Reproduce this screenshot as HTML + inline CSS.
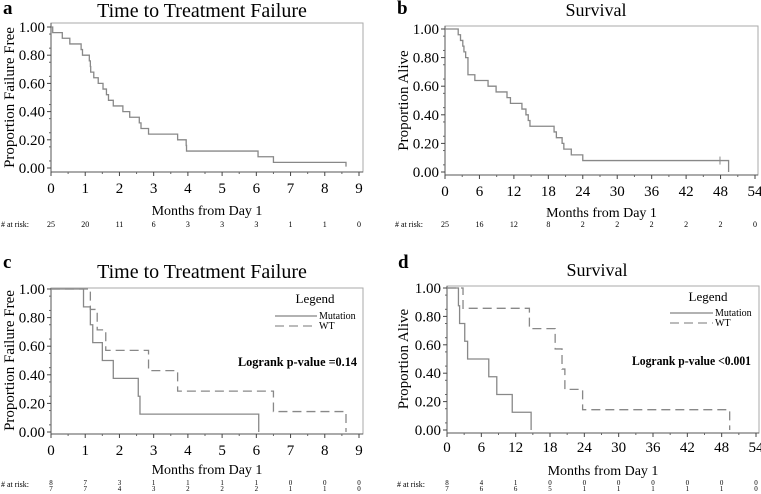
<!DOCTYPE html>
<html><head><meta charset="utf-8"><style>
body{margin:0;background:#fff;width:761px;height:494px;overflow:hidden}
svg{display:block;font-family:"Liberation Serif",serif}
</style></head><body>
<svg id="fig" width="761" height="494" viewBox="0 0 761 494" xmlns="http://www.w3.org/2000/svg"></svg>
<script>
// Panel a: time to treatment failure (all)
const aTimes=[0.05,0.33,0.55,0.88,0.92,1.12,1.15,1.16,1.25,1.38,1.52,1.62,1.68,1.82,2.1,2.3,2.58,2.63,2.85,3.7,3.95,3.96,6.05,6.5,8.62];
const aSurv=[0.96,0.92,0.88,0.84,0.80,0.76,0.72,0.68,0.64,0.60,0.56,0.52,0.48,0.44,0.40,0.36,0.32,0.28,0.24,0.20,0.16,0.12,0.08,0.04,0.01];
const aRisk=["25","20","11","6","3","3","3","1","1","0"];
const aTicks=[0,1,2,3,4,5,6,7,8,9];
// Panel b: survival (all)
const bTimes=[2.3,2.7,3.1,3.3,3.6,4.0,5.2,7.5,8.9,10.8,11.4,13.4,14.1,14.5,14.8,19.0,19.4,20.4,20.7,22.0,24.0,49.4];
const bSurv=[0.96,0.92,0.88,0.84,0.80,0.68,0.64,0.60,0.56,0.52,0.48,0.44,0.40,0.36,0.32,0.28,0.24,0.20,0.16,0.12,0.08,0.0];
const bCensor=[47.9];
const bRisk=["25","16","12","8","2","2","2","2","2","0"];
const bTicks=[0,6,12,18,24,30,36,42,48,54];
// Panel c: TTF by group
const cMutTimes=[0.95,1.15,1.22,1.5,1.82,2.55,2.6,6.07];
const cMutSurv=[0.875,0.75,0.625,0.5,0.375,0.25,0.125,0];
const cWtTimes=[1.15,1.35,1.6,2.85,3.7,6.5,8.62];
const cWtSurv=[0.857,0.714,0.571,0.429,0.286,0.143,0];
const cRiskMut=["8","7","3","1","1","1","1","0","0","0"];
const cRiskWt=["7","7","4","3","2","2","2","1","1","0"];
// Panel d: survival by group
const dMutTimes=[2.0,2.2,3.1,3.6,7.3,8.7,11.4,14.7];
const dMutSurv=[0.875,0.75,0.625,0.5,0.375,0.25,0.125,0];
const dWtTimes=[2.8,14.4,18.9,20.1,20.6,23.7,49.4];
const dWtSurv=[0.857,0.714,0.571,0.429,0.286,0.143,0];
const dRiskMut=["8","4","1","0","0","0","0","0","0","0"];
const dRiskWt=["7","6","6","5","1","1","1","1","1","0"];
const yTicks=[0,0.2,0.4,0.6,0.8,1.0];

const svg=document.getElementById('fig');
const NS='http://www.w3.org/2000/svg';
function el(tag,attrs,parent,text){const e=document.createElementNS(NS,tag);for(const k in attrs)e.setAttribute(k,attrs[k]);if(text!==undefined)e.textContent=text;(parent||svg).appendChild(e);return e;}

function panel(cfg){
  const g=el('g',{});
  
  
  const xs=v=>cfg.x0+(v-cfg.tmin)/(cfg.tmax-cfg.tmin)*(cfg.x1-cfg.x0);
  const ys=v=>cfg.y0+(1-v)*(cfg.y1-cfg.y0);
  let t=el('text',{x:cfg.lx,y:cfg.ly,'font-size':19,'font-weight':'bold'},g,cfg.letter);
  
  t=el('text',{x:cfg.tx,y:cfg.ty,'font-size':cfg.tfs,'text-anchor':'middle'},g,cfg.title);
  
  const f=el('rect',{x:cfg.x0,y:cfg.fTop,width:cfg.fRight-cfg.x0,height:cfg.fBot-cfg.fTop,fill:'none',stroke:'#aaa','stroke-width':1},g);
  
  el('line',{x1:cfg.x0,y1:cfg.fTop,x2:cfg.x0,y2:cfg.fBot,stroke:'#555'},g);
  el('line',{x1:cfg.x0,y1:cfg.fBot,x2:cfg.fRight,y2:cfg.fBot,stroke:'#555'},g);
  yTicks.forEach(v=>{
    el('line',{x1:cfg.x0-4,y1:ys(v),x2:cfg.x0,y2:ys(v),stroke:'#444'},g);
    const l=el('text',{x:cfg.x0-6,y:ys(v)+5,'font-size':15,'text-anchor':'end'},g,v.toFixed(2));
    
  });
  for(let v=0.05;v<1;v+=0.1)el('line',{x1:cfg.x0-2,y1:ys(v),x2:cfg.x0,y2:ys(v),stroke:'#666'},g);
  cfg.ticks.forEach((v,i)=>{
    el('line',{x1:xs(v),y1:cfg.fBot,x2:xs(v),y2:cfg.fBot+4,stroke:'#444'},g);
    if(i<cfg.ticks.length-1){const m=(v+cfg.ticks[i+1])/2;el('line',{x1:xs(m),y1:cfg.fBot,x2:xs(m),y2:cfg.fBot+2,stroke:'#666'},g);}
    const l=el('text',{x:xs(v),y:cfg.xtY,'font-size':15,'text-anchor':'middle'},g,String(v));
    
    cfg.risk.forEach((r,ri)=>{
      const rl=el('text',{x:xs(v),y:cfg.rY+ri*6,'font-size':cfg.risk.length>1?7:8,'text-anchor':'middle'},g,r[i]);
      
    });
  });
  t=el('text',{x:cfg.x0-22,y:cfg.rY+(cfg.risk.length>1?2:0),'font-size':8,'text-anchor':'end'},g,'# at risk:');
  
  t=el('text',{x:(cfg.x0+cfg.fRight)/2,y:cfg.xlY,'font-size':14,'text-anchor':'middle'},g,'Months from Day 1');
  
  const ym=(cfg.y0+cfg.y1)/2;
  t=el('text',{x:cfg.ylX,y:ym,'font-size':15,'text-anchor':'middle',transform:`rotate(-90 ${cfg.ylX} ${ym})`},g,cfg.ylabel);
  
  cfg.series.forEach(s=>{
    let d=`M${xs(cfg.tmin)},${ys(1)}`;let prev=1;
    s.times.forEach((tm,i)=>{d+=` L${xs(tm)},${ys(prev)} L${xs(tm)},${ys(s.surv[i])}`;prev=s.surv[i];});
    const p=el('path',{d:d,fill:'none',stroke:'#888','stroke-width':1.3,'stroke-dasharray':s.dash||'none'},g);
    
    (s.censor||[]).forEach(c=>{let sv=1;s.times.forEach((tm,i)=>{if(tm<=c)sv=s.surv[i];});el('line',{x1:xs(c),y1:ys(sv)-4,x2:xs(c),y2:ys(sv)+4,stroke:'#888'},g);});
  });
  if(cfg.legend){
    const L=cfg.legend;
    t=el('text',{x:L.x,y:L.y,'font-size':13,'text-anchor':'middle'},g,'Legend');
    
    el('line',{x1:L.lx0,y1:L.y1,x2:L.lx1,y2:L.y1,stroke:'#666'},g);
    el('line',{x1:L.lx0,y1:L.y2,x2:L.lx1,y2:L.y2,stroke:'#777','stroke-dasharray':'9,5'},g);
    t=el('text',{x:L.lx1+2,y:L.y1+3,'font-size':10},g,'Mutation');
    
    t=el('text',{x:L.lx1+2,y:L.y2+3,'font-size':10},g,'WT');
    
    t=el('text',{x:L.px,y:L.py,'font-size':13,'font-weight':'bold',textLength:119,lengthAdjust:'spacingAndGlyphs'},g,L.ptext);
    
  }
}

panel({letter:'a',lx:3,ly:14,title:'Time to Treatment Failure',tx:202,ty:17,tfs:20,
  x0:51,x1:359,tmin:0,tmax:9,y0:27,y1:168,fTop:23,fBot:172,fRight:363,
  ticks:aTicks,xtY:193,xlY:215,rY:227,risk:[aRisk],ylX:14,ylabel:'Proportion Failure Free',
  series:[{name:'curve-all',times:aTimes,surv:aSurv}]});
panel({letter:'b',lx:397,ly:14,title:'Survival',tx:596,ty:16,tfs:18,
  x0:445,x1:755,tmin:0,tmax:54,y0:29,y1:172,fTop:26,fBot:175,fRight:758,
  ticks:bTicks,xtY:196,xlY:217,rY:227,risk:[bRisk],ylX:408,ylabel:'Proportion Alive',
  series:[{name:'curve-all',times:bTimes,surv:bSurv,censor:bCensor}]});
panel({letter:'c',lx:3,ly:268,title:'Time to Treatment Failure',tx:202,ty:278,tfs:20,
  x0:51,x1:359,tmin:0,tmax:9,y0:289,y1:432,fTop:288,fBot:434,fRight:363,
  ticks:aTicks,xtY:455,xlY:474,rY:485,risk:[cRiskMut,cRiskWt],ylX:14,ylabel:'Proportion Failure Free',
  series:[{name:'curve-mutation',times:cMutTimes,surv:cMutSurv},{name:'curve-wt',times:cWtTimes,surv:cWtSurv,dash:'9,5'}],
  legend:{x:315,y:303,lx0:275,lx1:317,y1:316,y2:326,px:238,py:366,ptext:'Logrank  p-value =0.14'}});
panel({letter:'d',lx:398,ly:268,title:'Survival',tx:597,ty:276,tfs:18,
  x0:447,x1:756,tmin:0,tmax:54,y0:288,y1:430,fTop:286,fBot:433,fRight:759,
  ticks:bTicks,xtY:452,xlY:475,rY:485,risk:[dRiskMut,dRiskWt],ylX:408,ylabel:'Proportion Alive',
  series:[{name:'curve-mutation',times:dMutTimes,surv:dMutSurv},{name:'curve-wt',times:dWtTimes,surv:dWtSurv,dash:'9,5'}],
  legend:{x:708,y:301,lx0:670,lx1:713,y1:313,y2:323,px:632,py:365,ptext:'Logrank  p-value <0.001'}});
</script>
</body></html>
